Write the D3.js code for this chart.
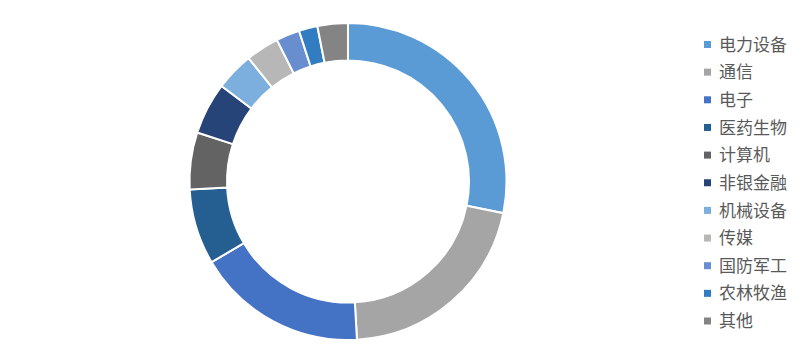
<!DOCTYPE html>
<html>
<head>
<meta charset="utf-8">
<script src="https://cdn.jsdelivr.net/npm/d3@7"></script>
<style>
	html, body { margin: 0; padding: 0; background: #fff; }
	.legend text { font-family: "Noto Sans CJK SC", sans-serif; font-size: 17px; fill: #595959; }
</style>
</head>
<body>
<div id="chart"></div>
<script>
(function () {'use strict';

// industries, share of total (%)
var categories = ['电力设备', '通信', '电子', '医药生物', '计算机', '非银金融', '机械设备', '传媒', '国防军工', '农林牧渔', '其他'];
var values     = [28.2, 20.9, 17.4, 7.7, 5.8, 5.3, 3.9, 3.4, 2.4, 1.9, 3.1];
var colors     = ['#5B9BD5', '#A5A5A5', '#4472C4', '#255E91', '#636363', '#264478', '#7CAFDD', '#B7B7B7', '#698ED0', '#327DC2', '#848484'];

var width = 810,
	height = 364,
	center = { x : 348, y : 181.5 },
	outerR = 158.5,
	innerR = 121,
	legend = { x : 704, y : 44.5, step : 27.65, box : 7 };

var data = categories.map(function (c, i) {
	return { name : c, value : values[i] };
});

var color = d3.scaleOrdinal().domain(categories).range(colors);

var svg = d3.select('#chart')
	.append('svg')
		.attr('width', width)
		.attr('height', height);

var pie = d3.pie()
	.sort(null)
	.value(function (d) { return d.value; });

var arc = d3.arc()
	.innerRadius(innerR)
	.outerRadius(outerR);

// donut
svg.append('g')
	.attr('transform', 'translate(' + center.x + ',' + center.y + ')')
	.selectAll('path')
	.data(pie(data))
	.enter()
	.append('path')
		.attr('d', arc)
		.attr('fill', function (d) { return color(d.data.name); })
		.attr('stroke', '#fff')
		.attr('stroke-width', 2);

// legend
var y = d3.scalePoint()
	.domain(categories)
	.range([legend.y, legend.y + legend.step * (categories.length - 1)]);

var item = svg.append('g')
	.attr('class', 'legend')
	.selectAll('g')
	.data(categories)
	.enter()
	.append('g')
		.attr('transform', function (d) { return 'translate(' + legend.x + ',' + y(d) + ')'; });

item.append('rect')
	.attr('x', 0)
	.attr('y', -legend.box / 2)
	.attr('width', legend.box)
	.attr('height', legend.box)
	.attr('fill', function (d) { return color(d); });

item.append('text')
	.attr('x', 15)
	.attr('dy', '0.36em')
	.text(function (d) { return d; });

})();
</script>
</body>
</html>
